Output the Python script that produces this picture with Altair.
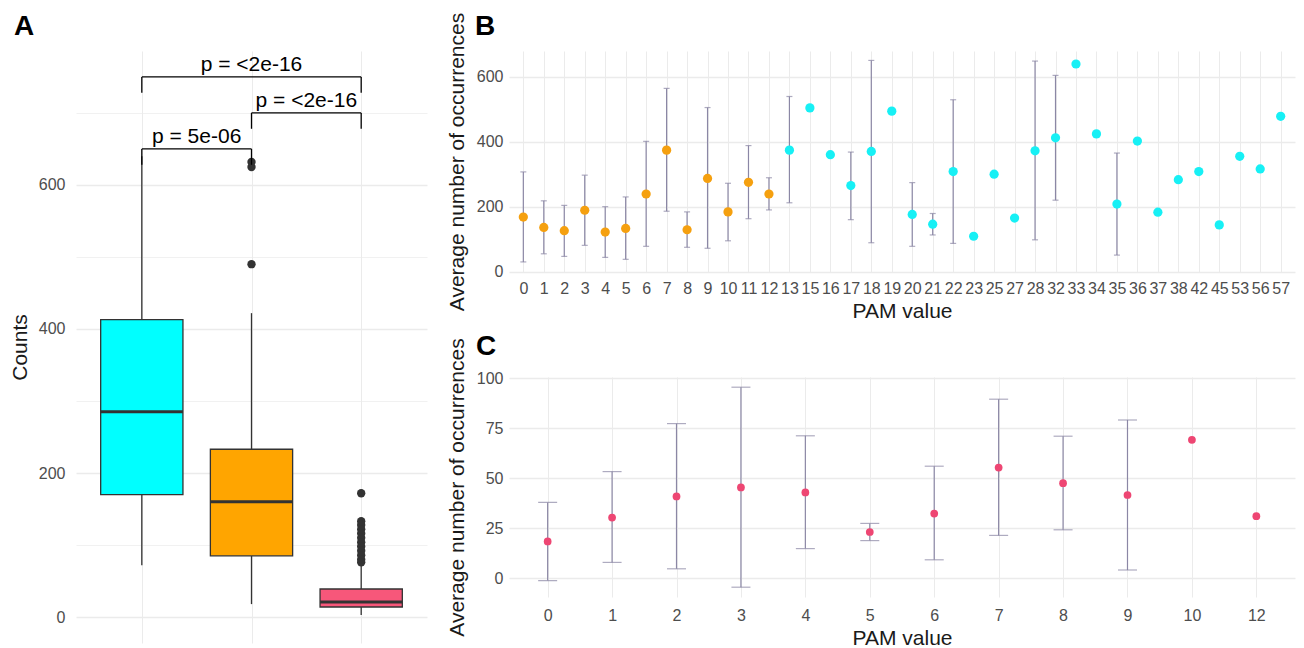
import altair as alt
import pandas as pd

FONT = "Liberation Sans"

# ---------------- Panel A : box plot ----------------
box_groups = ["G1", "G2", "G3"]
box_colors = ["#00FFFF", "#FFA500", "#F7577A"]
box_q1 = [170, 85, 14]
box_median = [285, 160, 21]
box_q3 = [413, 233, 39]
box_whisker_low = [72, 18, 3]
box_whisker_high = [640, 422, 75]

outlier_group = ["G2", "G2", "G2"] + ["G3"] * 12
outlier_value = [490, 625, 632, 172, 133, 128, 122, 116, 110, 104, 98, 92, 86, 80, 76]

bracket_from = ["G1", "G2", "G1"]
bracket_to = ["G2", "G3", "G3"]
bracket_y = [650, 700, 750]
bracket_tip = [628, 678, 728]
bracket_label = ["p = 5e-06", "p = <2e-16", "p = <2e-16"]

# ---------------- Panel B ----------------
pam_b = ["0", "1", "2", "3", "4", "5", "6", "7", "8", "9", "10", "11", "12", "13", "15", "16",
         "17", "18", "19", "20", "21", "22", "23", "25", "27", "28", "32", "33", "34", "35", "36",
         "37", "38", "42", "45", "53", "56", "57"]
class_b = ["low"] * 13 + ["high"] * 25
mean_b = [168, 136, 126, 189, 122, 133, 239, 374, 129, 287, 184, 275, 239, 374, 504, 360,
          265, 370, 494, 176, 146, 308, 109, 300, 165, 372, 412, 639, 424, 208, 402,
          183, 283, 308, 144, 355, 316, 478]
lo_b = [30, 55, 47, 81, 44, 38, 78, 186, 75, 72, 95, 163, 190, 212, None, None,
        160, 89, None, 78, 113, 87, None, None, None, 98, 220, None, None, 51, None,
        None, None, None, None, None, None, None]
hi_b = [307, 218, 204, 297, 200, 230, 401, 564, 184, 505, 272, 388, 289, 539, None, None,
        368, 650, None, 274, 179, 529, None, None, None, 648, 604, None, None, 365, None,
        None, None, None, None, None, None, None]

# ---------------- Panel C ----------------
pam_c = ["0", "1", "2", "3", "4", "5", "6", "7", "8", "9", "10", "12"]
mean_c = [18.3, 30.2, 40.8, 45.3, 42.8, 23.0, 32.2, 55.2, 47.4, 41.5, 69.1, 30.9]
lo_c = [-1.3, 7.8, 4.6, -4.6, 14.7, 18.7, 9.1, 21.3, 24.1, 4.0, None, None]
hi_c = [37.8, 53.2, 77.2, 95.4, 71.1, 27.3, 55.9, 89.4, 70.9, 79.0, None, None]

panel_letters = ["A", "B", "C"]

ERR = "#8B87A5"
INK = "#333333"
TITLE_SIZE = 21


def letter(ch, dx, dy):
    return alt.Chart(pd.DataFrame({"t": [ch]})).mark_text(
        font=FONT, fontSize=28, fontWeight="bold", align="left", baseline="alphabetic",
        color="black").encode(x=alt.value(dx), y=alt.value(dy), text="t:N")


# ---------- build A ----------
half = 0.375
pos = {g: i + 1 for i, g in enumerate(box_groups)}
box_df = pd.DataFrame({
    "group": box_groups, "q1": box_q1, "median": box_median, "q3": box_q3,
    "wlo": box_whisker_low, "whi": box_whisker_high,
})
box_df["pos"] = box_df["group"].map(pos)
box_df["left"] = box_df["pos"] - half
box_df["right"] = box_df["pos"] + half

out_df = pd.DataFrame({"group": outlier_group, "value": outlier_value})
out_df["pos"] = out_df["group"].map(pos)

br_df = pd.DataFrame({"a": bracket_from, "b": bracket_to, "y": bracket_y,
                      "tip": bracket_tip, "label": bracket_label})
br_df["xa"] = br_df["a"].map(pos)
br_df["xb"] = br_df["b"].map(pos)
br_df["mid"] = (br_df["xa"] + br_df["xb"]) / 2

xA = alt.X("pos:Q", scale=alt.Scale(domain=[0.4, 3.6], nice=False, zero=False),
           axis=alt.Axis(values=[1, 2, 3], labels=False, title=None, grid=True))
yA_scale = alt.Scale(domain=[-36, 786], nice=False, zero=False)
yA = alt.Y("q1:Q", scale=yA_scale,
           axis=alt.Axis(title="Counts", values=[0, 100, 200, 300, 400, 500, 600, 700],
                         labelExpr="datum.value % 200 === 0 ? datum.label : ''",
                         gridWidth={"condition": {"test": "datum.value % 200 === 0", "value": 1.3}, "value": 0.7},
                         labelPadding=11, titlePadding=8))

base_box = alt.Chart(box_df)
whisk_lo = base_box.mark_rule(color=INK, strokeWidth=1.3).encode(
    x=xA, y=alt.Y("wlo:Q", scale=yA_scale), y2="q1:Q")
whisk_hi = base_box.mark_rule(color=INK, strokeWidth=1.3).encode(
    x="pos:Q", y=alt.Y("q3:Q", scale=yA_scale), y2="whi:Q")
boxes = base_box.mark_rect(stroke=INK, strokeWidth=1.3).encode(
    x="left:Q", x2="right:Q", y=yA, y2="q3:Q",
    fill=alt.Color("group:N", scale=alt.Scale(domain=box_groups, range=box_colors), legend=None))
medians = base_box.mark_rule(color=INK, strokeWidth=3).encode(
    x="left:Q", x2="right:Q", y=alt.Y("median:Q", scale=yA_scale))
outliers = alt.Chart(out_df).mark_circle(size=70, color=INK, opacity=1).encode(
    x="pos:Q", y=alt.Y("value:Q", scale=yA_scale))

br_base = alt.Chart(br_df)
br_h = br_base.mark_rule(color="black", strokeWidth=1.3).encode(
    x="xa:Q", x2="xb:Q", y=alt.Y("y:Q", scale=yA_scale))
br_l = br_base.mark_rule(color="black", strokeWidth=1.3).encode(
    x="xa:Q", y=alt.Y("tip:Q", scale=yA_scale), y2="y:Q")
br_r = br_base.mark_rule(color="black", strokeWidth=1.3).encode(
    x="xb:Q", y=alt.Y("tip:Q", scale=yA_scale), y2="y:Q")
br_t = br_base.mark_text(font=FONT, fontSize=21, baseline="bottom", dy=-2, color="black").encode(
    x="mid:Q", y=alt.Y("y:Q", scale=yA_scale), text="label:N")

panel_a = alt.layer(whisk_lo, whisk_hi, boxes, medians, outliers, br_h, br_l, br_r, br_t,
                    letter(panel_letters[0], -62, -16)).properties(width=351, height=592)

# ---------- build B ----------
b_df = pd.DataFrame({"pam": pam_b, "cls": class_b, "mean": mean_b, "lo": lo_b, "hi": hi_b})
b_err = b_df.dropna(subset=["lo", "hi"])

xB = alt.X("pam:O", sort=pam_b, scale=alt.Scale(type="point", padding=0.7),
           axis=alt.Axis(title="PAM value", labelAngle=0, labelOverlap=False, grid=True,
                         labelPadding=8, titlePadding=4))
yB_scale = alt.Scale(domain=[-1, 679], nice=False, zero=False)
yB_axis = alt.Axis(title="Average number of occurrences", values=[0, 100, 200, 300, 400, 500, 600],
                   labelExpr="datum.value % 200 === 0 ? datum.label : ''",
                   gridWidth={"condition": {"test": "datum.value % 200 === 0", "value": 1.3}, "value": 0.7},
                   labelPadding=6, titlePadding=9)

b_rule = alt.Chart(b_err).mark_rule(color=ERR, strokeWidth=1.2).encode(
    x=xB, y=alt.Y("lo:Q", scale=yB_scale, axis=yB_axis), y2="hi:Q")
b_cap_lo = alt.Chart(b_err).mark_tick(color=ERR, size=6, thickness=1.2, orient="horizontal").encode(
    x=alt.X("pam:O", sort=pam_b), y=alt.Y("lo:Q", scale=yB_scale))
b_cap_hi = alt.Chart(b_err).mark_tick(color=ERR, size=6, thickness=1.2, orient="horizontal").encode(
    x=alt.X("pam:O", sort=pam_b), y=alt.Y("hi:Q", scale=yB_scale))
b_pts = alt.Chart(b_df).mark_circle(size=85, opacity=1).encode(
    x=alt.X("pam:O", sort=pam_b), y=alt.Y("mean:Q", scale=yB_scale),
    color=alt.Color("cls:N", scale=alt.Scale(domain=["low", "high"], range=["#F5A00F", "#17F0F5"]),
                    legend=None))
panel_b = alt.layer(b_rule, b_cap_lo, b_cap_hi, b_pts,
                    letter(panel_letters[1], -34, -16)).properties(width=786, height=221)

# ---------- build C ----------
c_df = pd.DataFrame({"pam": pam_c, "mean": mean_c, "lo": lo_c, "hi": hi_c})
c_err = c_df.dropna(subset=["lo", "hi"])

xC = alt.X("pam:O", sort=pam_c, scale=alt.Scale(type="point", padding=0.6),
           axis=alt.Axis(title="PAM value", labelAngle=0, labelOverlap=False, grid=True,
                         labelPadding=10, titlePadding=4))
yC_scale = alt.Scale(domain=[-9.5, 100.5], nice=False, zero=False)
yC_axis = alt.Axis(title="Average number of occurrences",
                   values=[0, 12.5, 25, 37.5, 50, 62.5, 75, 87.5, 100],
                   labelExpr="datum.value % 25 === 0 ? datum.label : ''",
                   gridWidth={"condition": {"test": "datum.value % 25 === 0", "value": 1.3}, "value": 0.7},
                   labelPadding=6, titlePadding=9)

c_rule = alt.Chart(c_err).mark_rule(color=ERR, strokeWidth=1.2).encode(
    x=xC, y=alt.Y("lo:Q", scale=yC_scale, axis=yC_axis), y2="hi:Q")
c_cap_lo = alt.Chart(c_err).mark_tick(color=ERR, size=19, thickness=1.2, orient="horizontal").encode(
    x=alt.X("pam:O", sort=pam_c), y=alt.Y("lo:Q", scale=yC_scale))
c_cap_hi = alt.Chart(c_err).mark_tick(color=ERR, size=19, thickness=1.2, orient="horizontal").encode(
    x=alt.X("pam:O", sort=pam_c), y=alt.Y("hi:Q", scale=yC_scale))
c_pts = alt.Chart(c_df).mark_circle(size=60, opacity=1, color="#EE4673").encode(
    x=alt.X("pam:O", sort=pam_c), y=alt.Y("mean:Q", scale=yC_scale))
panel_c = alt.layer(c_rule, c_cap_lo, c_cap_hi, c_pts,
                    letter(panel_letters[2], -33, -22)).properties(width=786, height=220)

right = alt.vconcat(panel_b, panel_c, spacing=105, bounds="flush")
chart = alt.hconcat(panel_a, right, spacing=82, bounds="flush").properties(
    padding={"left": 9, "top": 12, "right": 5, "bottom": 2}
).configure(font=FONT).configure_view(stroke=None).configure_axis(
    labelFont=FONT, titleFont=FONT, labelFontSize=16, titleFontSize=TITLE_SIZE,
    labelColor="#4D4D4D", titleColor="#1A1A1A", titleFontWeight="normal",
    domain=False, ticks=False, gridColor="#EBEBEB"
)

chart.save("out.html", embed_options={"renderer": "svg", "actions": False})
